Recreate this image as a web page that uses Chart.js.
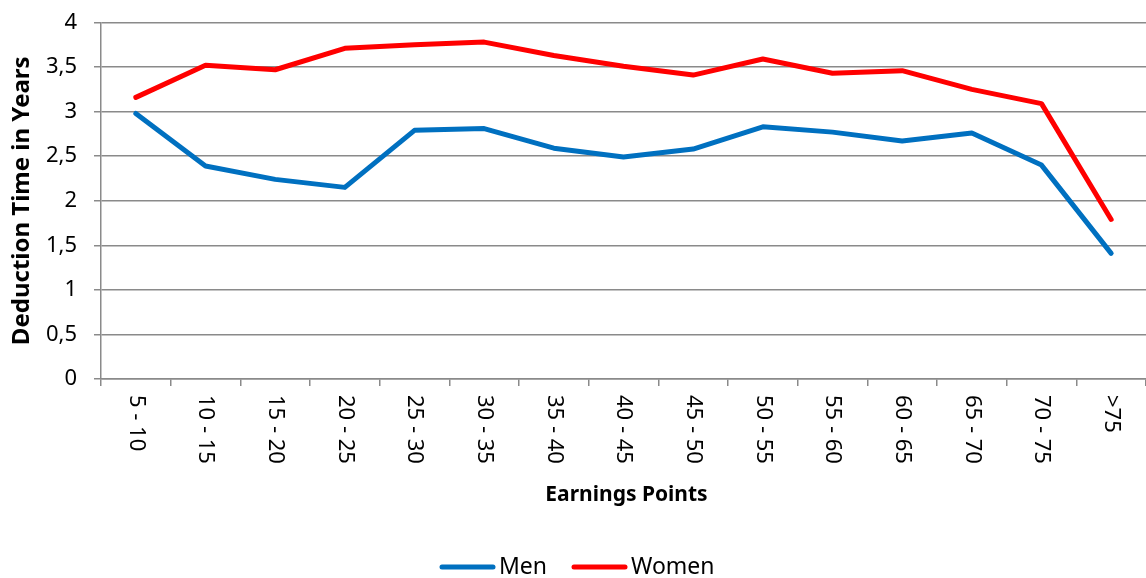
<!DOCTYPE html>
<html>
<head>
<meta charset="utf-8">
<script src="https://cdn.jsdelivr.net/npm/chart.js@4/dist/chart.umd.min.js"></script>
<style>
	html, body { margin: 0; padding: 0; background: #fff; }
	#wrap { width: 1146px; height: 578px; }
</style>
</head>
<body>
<div id="wrap"><canvas id="dedChart" width="1146" height="578"></canvas></div>
<script>
var categories=["5 - 10", "10 - 15", "15 - 20", "20 - 25", "25 - 30", "30 - 35", "35 - 40",
	"40 - 45", "45 - 50", "50 - 55", "55 - 60", "60 - 65", "65 - 70", "70 - 75", ">75"];
var menValues=[2.98, 2.39, 2.24, 2.15, 2.79, 2.81, 2.59, 2.49, 2.58, 2.83, 2.77, 2.67, 2.76, 2.40, 1.41];
var womenValues=[3.16, 3.52, 3.47, 3.71, 3.75, 3.78, 3.63, 3.51, 3.41, 3.59, 3.43, 3.46, 3.25, 3.09, 1.79];
var yTickLabels=["0", "0,5", "1", "1,5", "2", "2,5", "3", "3,5", "4"];

var gridGray="#8a8a8a";
var fontFam="'Noto Sans', 'Open Sans', sans-serif";

// x labels (rotated clockwise), x title and legend are painted here
var extrasPlugin={
	id: 'extras',
	afterDraw: function(chart) {
		var ctx=chart.ctx;
		var xs=chart.scales.x;
		var area=chart.chartArea;
		ctx.save();
		ctx.fillStyle="#000";
		ctx.font="22px "+fontFam;
		ctx.textAlign="left";
		ctx.textBaseline="middle";
		for (var i=0; i<categories.length; i++) {
			ctx.save();
			ctx.translate(xs.getPixelForValue(i), area.bottom+16);
			ctx.rotate(Math.PI/2);
			ctx.fillText(categories[i], 0, 0);
			ctx.restore();
		}

		ctx.font="bold 21px "+fontFam;
		ctx.textAlign="center";
		ctx.fillText("Earnings Points", (area.left+area.right)/2+3, 495);

		// legend
		var items=[
			{text: "Men", color: chart.data.datasets[0].borderColor, x: 440},
			{text: "Women", color: chart.data.datasets[1].borderColor, x: 572}
		];
		ctx.font="23px "+fontFam;
		ctx.textAlign="left";
		ctx.lineCap="round";
		ctx.lineWidth=5;
		items.forEach(function(it) {
			ctx.strokeStyle=it.color;
			ctx.beginPath();
			ctx.moveTo(it.x+2, 567);
			ctx.lineTo(it.x+53, 567);
			ctx.stroke();
			ctx.fillStyle="#000";
			ctx.fillText(it.text, it.x+59, 567);
		});
		ctx.restore();
	}
};

window.onload=function() {
	new Chart(document.getElementById('dedChart').getContext('2d'), {
		type: 'line',
		data: {
			labels: categories,
			datasets: [
				{
					label: "Men",
					data: menValues,
					borderColor: "#0070C0",
					backgroundColor: "#0070C0",
					borderWidth: 5,
					borderCapStyle: 'round',
					borderJoinStyle: 'round',
					pointRadius: 0,
					tension: 0,
					fill: false
				},
				{
					label: "Women",
					data: womenValues,
					borderColor: "#FF0000",
					backgroundColor: "#FF0000",
					borderWidth: 5,
					borderCapStyle: 'round',
					borderJoinStyle: 'round',
					pointRadius: 0,
					tension: 0,
					fill: false
				}
			]
		},
		options: {
			responsive: false,
			animation: false,
			layout: { padding: { top: 20, right: 0, bottom: 0, left: 0 } },
			plugins: {
				legend: { display: false },
				tooltip: { enabled: false }
			},
			scales: {
				x: {
					offset: true,
					grid: { offset: true, drawOnChartArea: false, color: gridGray, lineWidth: 1.5, tickLength: 7 },
					border: { color: gridGray, width: 1.5 },
					ticks: { display: false },
					afterFit: function(scale) { scale.height=199; }
				},
				y: {
					min: 0,
					max: 4,
					ticks: {
						stepSize: 0.5,
						padding: 17,
						color: "#000",
						font: { family: fontFam, size: 22, lineHeight: 0.5 },
						callback: function(v, idx) { return yTickLabels[idx]; }
					},
					grid: { color: gridGray, lineWidth: 1.5, tickLength: 7 },
					border: { color: gridGray, width: 1.5 },
					title: {
						display: true,
						text: "Deduction Time in Years",
						color: "#000",
						font: { family: fontFam, size: 24, weight: 'bold' },
						padding: { top: 8, bottom: 0 }
					},
					afterFit: function(scale) { scale.width=101; }
				}
			}
		},
		plugins: [extrasPlugin]
	});
};
</script>
</body>
</html>
